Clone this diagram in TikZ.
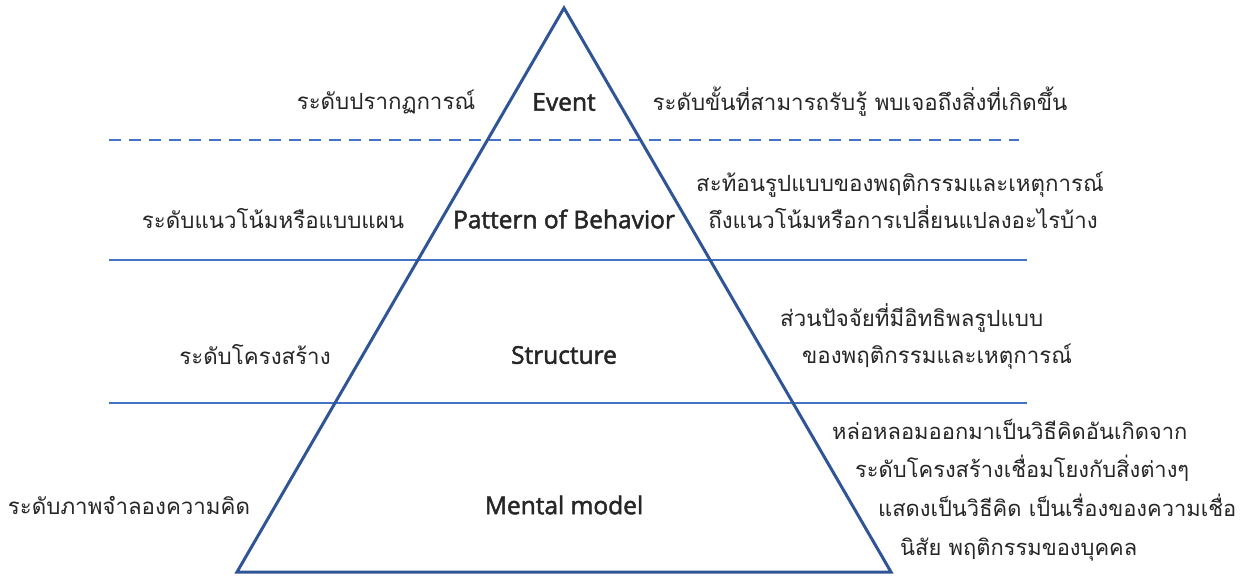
\documentclass[tikz,border=0pt]{standalone}
\usepackage{fontspec}
\newfontfamily\thaifont[Script=Thai]{Loma}
\newfontfamily\enfont{Open Sans}
\definecolor{tri}{HTML}{2F5597}
\definecolor{lvl}{HTML}{4472C4}
\definecolor{txt}{HTML}{262626}
\begin{document}
\begin{tikzpicture}[x=1pt,y=-1pt,
  th/.style={font=\thaifont\fontsize{22.3}{37}\selectfont, text=txt, inner sep=0pt},
  en/.style={font=\enfont\addfontfeature{FakeBold=2}\fontsize{24.5}{28}\selectfont, text=txt, inner sep=0pt},
  lvlline/.style={draw=lvl, line width=2pt},
  triline/.style={draw=tri, line width=3pt, line join=miter}]
\useasboundingbox (0,0) rectangle (1242,576);
% level lines
\coordinate (d1) at (109,140); \coordinate (d2) at (1019,140);
\coordinate (s1) at (109,260); \coordinate (s2) at (1027,260);
\coordinate (m1) at (109,403); \coordinate (m2) at (1027,403);
\draw[lvlline, dash pattern=on 12pt off 8pt] (d1) -- (d2);
\draw[lvlline] (s1) -- (s2);
\draw[lvlline] (m1) -- (m2);
% triangle
\coordinate (apex) at (564,8);
\coordinate (bl) at (237,572);
\coordinate (br) at (891,572);
\draw[triline] (apex) -- (bl) -- (br) -- cycle;
% level names
\node[en] (event) at (564,102) {Event};
\node[en] (pattern) at (564,219) {Pattern of Behavior};
\node[en] (structure) at (564,355) {Structure};
\node[en] (mental) at (564,505) {Mental model};
% left labels
\node[th] (l1) at (386,102) {ระดับปรากฏการณ์};
\node[th] (l2) at (273,219) {ระดับแนวโน้มหรือแบบแผน};
\node[th] (l3) at (255,355) {ระดับโครงสร้าง};
\node[th] (l4) at (129,505) {ระดับภาพจำลองความคิด};
% right descriptions
\node[th] (r1) at (860,102) {ระดับขั้นที่สามารถรับรู้ พบเจอถึงสิ่งที่เกิดขึ้น};
\node[th, align=center] (r2) at (900,200) {สะท้อนรูปแบบของพฤติกรรมและเหตุการณ์\\ \hspace*{6pt}ถึงแนวโน้มหรือการเปลี่ยนแปลงอะไรบ้าง};
\node[th, align=left, anchor=west] (r3) at (780,336) {ส่วนปัจจัยที่มีอิทธิพลรูปแบบ\\ \hspace*{22pt}ของพฤติกรรมและเหตุการณ์};
\node[th, align=left, anchor=west, font=\thaifont\fontsize{21.9}{38.7}\selectfont] (r4) at (832,490) {หล่อหลอมออกมาเป็นวิธีคิดอันเกิดจาก\\ \hspace*{23pt}ระดับโครงสร้างเชื่อมโยงกับสิ่งต่างๆ\\ \hspace*{46pt}แสดงเป็นวิธีคิด เป็นเรื่องของความเชื่อ\\ \hspace*{68pt}นิสัย พฤติกรรมของบุคคล};
\end{tikzpicture}
\end{document}
